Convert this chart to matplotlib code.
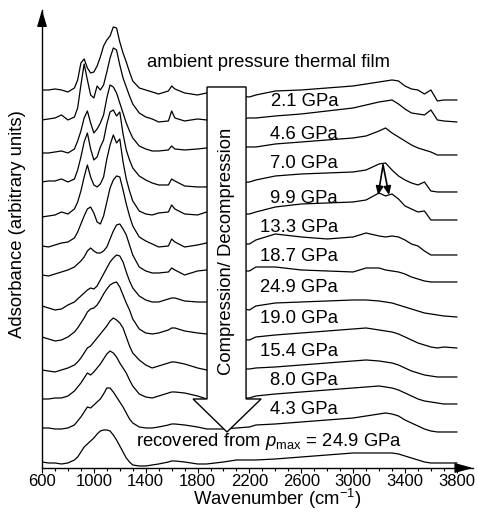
import matplotlib
matplotlib.use("Agg")
import matplotlib.pyplot as plt
from matplotlib.patches import Polygon

# wavenumber grid (cm-1) shared by all spectra
wavenumber = [600, 650, 700, 750, 800,
              850, 875, 900, 925, 950, 975, 1000, 1025, 1050, 1075, 1100, 1125, 1150, 1175, 1200, 1225, 1250, 1275, 1300,
              1350, 1400, 1450, 1500,
              1575, 1600, 1625, 1700, 1800, 1870,
              2000, 2100, 2200,
              2250, 2400, 2600, 2800, 3000, 3100,
              3200, 3250, 3300, 3350, 3400, 3450, 3500, 3550, 3600, 3650, 3700, 3800]

# absorbance (arbitrary units), top to bottom
spec_ambient = [0, 0, 1, 0, -2,
                2, 10, 27, 31, 22, 17, 18, 24, 33, 44, 50, 54, 63, 62, 48, 37, 28, 18, 9,
                2, 0, -2, -4,
                -1, 4, 1, -3, -5, -3,
                -5, -6, -7,
                -5, -1, 0, 2, 4, 6,
                8, 9, 10, 9, 4, 1, 0, -4, 0, -11, -10, -10]
spec_2p1 = [0, 1, 2, 5, 0,
            3, 12, 35, 56, 40, 25, 22, 34, 30, 35, 48, 62, 72, 70, 55, 42, 33, 24, 16,
            7, 3, 1, -2,
            -1, 9, 2, -1, 1, 0,
            1, 1, 2,
            2, 4, 6, 9, 12, 15,
            18, 19, 20, 16, 11, 7, 6, 5, 10, 0, -1, -2]
spec_4p6 = [0, 0, 1, 2, 0,
            4, 12, 22, 35, 42, 30, 20, 24, 30, 38, 55, 68, 66, 60, 50, 40, 30, 22, 15,
            7, 4, 2, 2,
            3, 7, 4, 3, 4, 5,
            5, 6, 6,
            6, 9, 11, 13, 15, 17,
            22, 25, 20, 16, 12, 8, 5, 3, 1, -2, -2, -2]
spec_7p0 = [0, 1, 1, 3, 0,
            3, 12, 25, 40, 49, 33, 22, 25, 35, 42, 58, 70, 72, 66, 70, 48, 32, 22, 14,
            6, 2, -1, -3,
            -3, 3, 1, -4, -5, -5,
            -3, -1, 0,
            2, 6, 8, 9, 10, 12,
            18, 19, 12, 6, 2, -1, -3, 0, -9, -10, -10, -10]
spec_9p9 = [0, 1, 2, 5, 3,
            8, 15, 26, 40, 52, 40, 32, 30, 33, 40, 58, 72, 82, 74, 78, 55, 38, 26, 16,
            6, 3, 2, 4,
            5, 12, 8, 3, 2, 5,
            4, 3, 3,
            5, 10, 13, 14, 15, 17,
            24, 21, 23, 18, 11, 8, 5, 6, -3, -3, -3, -3]
spec_13p3 = [0, -1, 1, 3, 4,
             8, 14, 22, 30, 37, 39, 33, 24, 22, 30, 44, 58, 66, 70, 69, 56, 42, 30, 20,
             9, 5, 2, -1,
             0, 7, 4, -1, 1, 3,
             3, 2, 2,
             6, 12, 9, 7, 9, 13,
             10, 9, 10, 9, 6, 2, 0, -5, -9, -9, -9, -9]
spec_18p7 = [0, -1, 1, 3, 5,
             8, 11, 14, 18, 24, 27, 24, 22, 22, 24, 28, 36, 44, 50, 51, 46, 40, 30, 20,
             8, 4, 2, 2,
             3, 7, 5, 0, 4, 5,
             4, 4, 4,
             8, 8, 5, 4, 3, 7,
             7, 5, 4, 3, 1, -2, -4, -6, -7, -7, -7, -7]
spec_24p9 = [0, -2, -4, -3, 1,
             4, 7, 10, 13, 16, 18, 17, 20, 26, 32, 38, 44, 48, 51, 50, 44, 34, 25, 18,
             10, 6, 4, 4,
             7, 8, 8, 5, 4, 4,
             0, -2, -4,
             0, 3, 4, 5, 6, 6,
             5, 4, 3, 1, -1, -3, -5, -7, -8, -9, -10, -11]
spec_19p0 = [0, -2, -4, -3, 0,
             5, 9, 14, 19, 25, 28, 29, 32, 37, 43, 48, 52, 54, 55, 50, 42, 34, 27, 18,
             8, 4, 3, 4,
             7, 9, 9, 6, 4, 3,
             0, -2, -3,
             0, 2, 4, 6, 8, 9,
             7, 6, 5, 3, 0, -3, -6, -8, -10, -11, -10, -11]
spec_15p4 = [0, -1, -2, 0, 2,
             5, 8, 12, 17, 22, 24, 28, 32, 36, 40, 44, 49, 52, 50, 47, 42, 33, 24, 17,
             10, 5, 2, 4,
             7, 8, 8, 6, 2, 0,
             0, 1, 1,
             2, 3, 5, 7, 9, 10,
             9, 8, 7, 5, 2, -1, -3, -5, -6, -7, -7, -7]
spec_8p0 = [0, 0, 1, 1, 3,
            8, 12, 16, 21, 26, 24, 27, 31, 35, 40, 45, 48, 46, 42, 36, 31, 26, 19, 13,
            5, 2, 1, 3,
            6, 7, 7, 6, 3, 0,
            0, 1, 1,
            3, 5, 7, 9, 11, 12,
            13, 12, 11, 9, 6, 3, 0, -2, -3, -4, -5, -5]
spec_4p3 = [0, 0, -1, -1, 0,
            3, 7, 11, 16, 21, 20, 23, 26, 29, 34, 40, 40, 36, 31, 26, 21, 15, 9, 5,
            1, 0, 0, 1,
            3, 4, 4, 3, 1, -1,
            -1, 0, 1,
            3, 4, 6, 8, 10, 12,
            14, 15, 14, 12, 8, 5, 2, -1, -3, -4, -4, -4]
spec_recovered = [0, -1, -1, -2, -1,
                  2, 5, 10, 15, 18, 21, 24, 28, 31, 32, 32, 31, 27, 22, 16, 10, 4, 0, -3,
                  -4, -4, -3, -2,
                  0, 1, 1, 0, -2, -2,
                  0, 2, 2,
                  2, 3, 5, 7, 9, 9,
                  9, 9, 9, 8, 6, 4, 2, 0, -1, -1, -1, -1]

spectra = [spec_ambient, spec_2p1, spec_4p6, spec_7p0, spec_9p9, spec_13p3, spec_18p7,
           spec_24p9, spec_19p0, spec_15p4, spec_8p0, spec_4p3, spec_recovered]
offsets = [378, 348, 315, 286, 251, 222, 193, 162, 131, 98, 69, 40, 6]
pressure_labels = ["2.1 GPa", "4.6 GPa", "7.0 GPa", "9.9 GPa", "13.3 GPa", "18.7 GPa",
                   "24.9 GPa", "19.0 GPa", "15.4 GPa", "8.0 GPa", "4.3 GPa"]

plt.rcParams["font.family"] = ["Liberation Sans", "DejaVu Sans"]
plt.rcParams["mathtext.fontset"] = "custom"
plt.rcParams["mathtext.rm"] = "Liberation Sans"
plt.rcParams["mathtext.it"] = "Liberation Sans:italic"

fig = plt.figure(figsize=(4.78, 5.17), dpi=100)
ax = fig.add_axes([0.0879, 0.0948, 0.9017, 0.8859])

for spec, off in zip(spectra, offsets):
    ax.plot(wavenumber, [v + off for v in spec], color="black", linewidth=0.9, zorder=2)

# compression / decompression arrow
arrow = Polygon([(1873, 381), (2174, 381), (2174, 69), (2290, 69), (2027, 36),
                 (1765, 69), (1873, 69)], closed=True, facecolor="white",
                edgecolor="black", linewidth=1.0, zorder=3)
ax.add_patch(arrow)
ax.text(2027, 217, "Compression/ Decompression", rotation=90, ha="center", va="center",
        fontsize=13.3, zorder=4)

fs = 13.3
ax.text(2344, offsets[0] + 27, "ambient pressure thermal film", ha="center", va="center", fontsize=fs)
for lab, off in zip(pressure_labels, offsets[1:12]):
    ax.text(2884, off + 18, lab, ha="right", va="center", fontsize=fs)
ax.text(2348, offsets[12] + 20, "recovered from $p_{\\mathrm{max}}$ = 24.9 GPa",
        ha="center", va="center", fontsize=fs)

# peak splitting arrows on 9.9 GPa
for xe in (3193, 3277):
    ax.annotate("", xy=(xe, 273), xytext=(3231, 303),
                arrowprops=dict(arrowstyle="-|>,head_length=0.5,head_width=0.22",
                                color="black", lw=1.2, shrinkA=0, shrinkB=0))

ax.set_xlim(600, 3925)
ax.set_ylim(0, 458)
for side in ("top", "right"):
    ax.spines[side].set_visible(False)
for side in ("left", "bottom"):
    ax.spines[side].set_linewidth(1.0)
ax.set_yticks([])
ax.set_xticks(range(600, 3801, 400))
ax.set_xticks(range(600, 3801, 100), minor=True)
ax.tick_params(axis="x", which="major", direction="out", length=3.5, width=0.8, pad=0.5, labelsize=12)
ax.tick_params(axis="x", which="minor", direction="out", length=2, width=0.8)

# axis arrowheads
ax.annotate("", xy=(1.0, 0), xytext=(0.96, 0), xycoords="axes fraction",
            arrowprops=dict(arrowstyle="-|>,head_length=1.1,head_width=0.3", color="black",
                            lw=1.0, shrinkA=0, shrinkB=0))
ax.annotate("", xy=(0, 1.0), xytext=(0, 0.965), xycoords="axes fraction",
            arrowprops=dict(arrowstyle="-|>,head_length=1.0,head_width=0.3", color="black",
                            lw=1.0, shrinkA=0, shrinkB=0))

fig.text(277 / 478, 1 - 499 / 517, "Wavenumber (cm$^{-1}$)", ha="center", va="center", fontsize=fs)
fig.text(18 / 478, 1 - 224 / 517, "Adsorbance (arbitrary units)", rotation=90,
         ha="center", va="center", fontsize=fs)

fig.savefig("out.png", dpi=100)
